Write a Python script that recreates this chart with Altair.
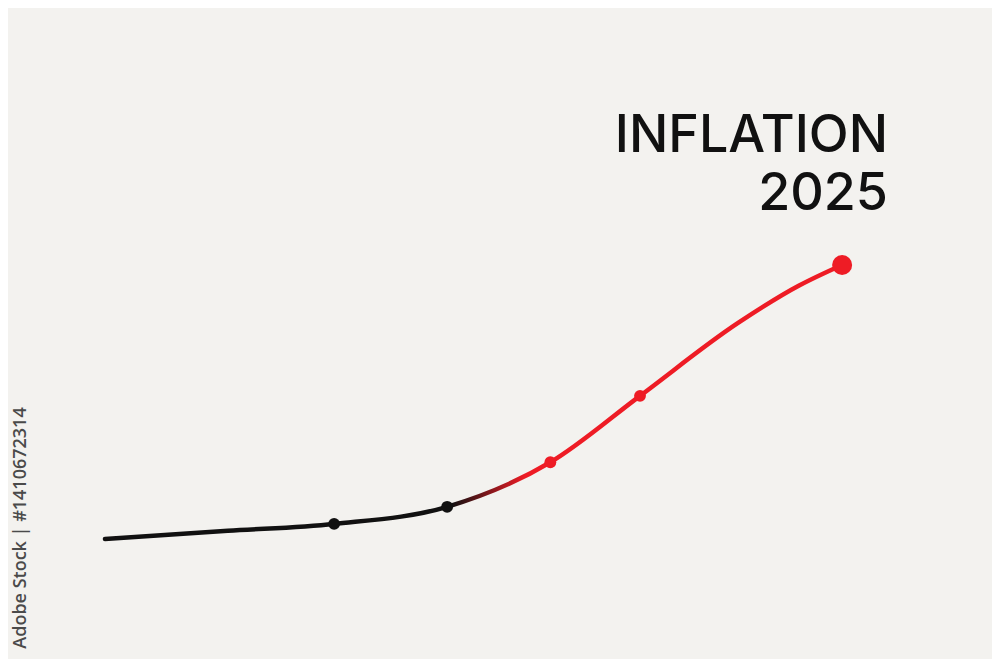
import altair as alt
import pandas as pd

# Curve (time index vs. inflation level, arbitrary units)
curve_t = [0.0, 2.0, 3.73, 5.57, 7.25, 8.71, 10.3, 11.3, 12.0]
curve_v = [1.0, 1.12, 1.22, 1.47, 2.12, 3.09, 4.15, 4.7, 5.0]

# Marked points
pt_t = [3.73, 5.57, 7.25, 8.71]
pt_v = [1.22, 1.47, 2.12, 3.09]
pt_c = ["#111111", "#111111", "#ee1c25", "#ee1c25"]

end_t = [12.0]
end_v = [5.0]

title_lines = ["INFLATION", "2025"]
watermark = "Adobe Stock | #1410672314"

curve = pd.DataFrame({"t": curve_t, "v": curve_v})
pts = pd.DataFrame({"t": pt_t, "v": pt_v, "c": pt_c})
end = pd.DataFrame({"t": end_t, "v": end_v})

xs = alt.Scale(domain=[-1.579, 14.44], nice=False, zero=False)
ys = alt.Scale(domain=[-0.752, 8.752], nice=False, zero=False)

line = alt.Chart(curve).mark_line(
    interpolate="monotone",
    strokeWidth=4.5,
    strokeCap="round",
    color=alt.Gradient(
        gradient="linear",
        stops=[
            alt.GradientStop(offset=0, color="#111111"),
            alt.GradientStop(offset=0.47, color="#111111"),
            alt.GradientStop(offset=0.57, color="#ee1c25"),
            alt.GradientStop(offset=1, color="#ee1c25"),
        ],
        x1=0, x2=1, y1=0, y2=0,
    ),
).encode(
    x=alt.X("t:Q", scale=xs, axis=None),
    y=alt.Y("v:Q", scale=ys, axis=None),
)

points = alt.Chart(pts).mark_circle(size=140, opacity=1).encode(
    x=alt.X("t:Q", scale=xs, axis=None),
    y=alt.Y("v:Q", scale=ys, axis=None),
    color=alt.Color("c:N", scale=None),
)

endpt = alt.Chart(end).mark_circle(size=400, opacity=1, color="#ee1c25").encode(
    x=alt.X("t:Q", scale=xs, axis=None),
    y=alt.Y("v:Q", scale=ys, axis=None),
)

t1 = alt.Chart(pd.DataFrame({"s": [title_lines[0]]})).mark_text(
    align="right", baseline="alphabetic", fontSize=52, font="Inter",
    fontWeight=500, color="#111111",
).encode(x=alt.value(880), y=alt.value(144), text="s:N")

t2 = alt.Chart(pd.DataFrame({"s": [title_lines[1]]})).mark_text(
    align="right", baseline="alphabetic", fontSize=52, font="Inter",
    fontWeight=500, color="#111111",
).encode(x=alt.value(880), y=alt.value(202), text="s:N")

wm = alt.Chart(pd.DataFrame({"s": [watermark]})).mark_text(
    align="center", baseline="middle", angle=270, fontSize=18,
    font="Open Sans", fontWeight=600, color="#4a4a4a",
).encode(x=alt.value(13), y=alt.value(520), text="s:N")

chart = alt.layer(line, points, endpt, t1, t2, wm).properties(
    width=984, height=651,
    autosize=alt.AutoSizeParams(type="none"),
    padding=0,
    background="#f3f2ef",
).configure_view(stroke=None)

chart.save("out.html", embed_options={"renderer": "svg", "actions": False})
